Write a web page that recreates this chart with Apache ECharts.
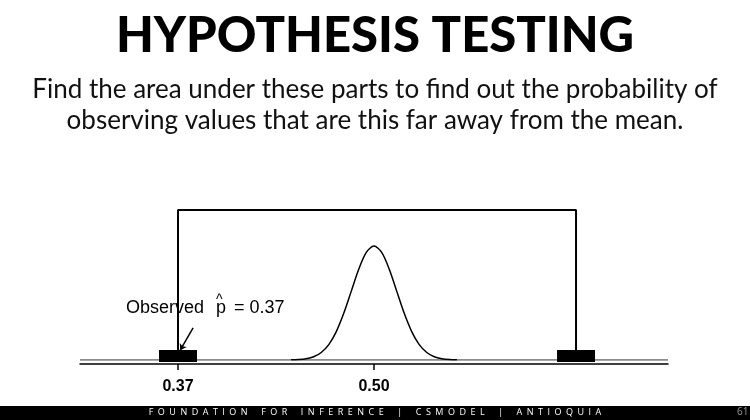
<!DOCTYPE html>
<html>
<head>
<meta charset="utf-8">
<script src="https://cdn.jsdelivr.net/npm/echarts@6/dist/echarts.min.js"></script>
<style>
  html, body { margin: 0; padding: 0; background: #fff; }
  #main { width: 750px; height: 420px; }
</style>
</head>
<body>
<div id="main"></div>
<script>
// sampling grid of the null distribution (p-hat) and its density
var curveX = [0.445, 0.450, 0.455, 0.460, 0.465, 0.470, 0.475, 0.480, 0.485, 0.490, 0.495, 0.500,
  0.505, 0.510, 0.515, 0.520, 0.525, 0.530, 0.535, 0.540, 0.545, 0.550, 0.555]
var curveY = [0.03, 0.10, 0.30, 0.76, 1.75, 3.60, 6.63, 10.94, 16.13, 21.30, 25.16, 26.60,
  25.16, 21.30, 16.13, 10.94, 6.63, 3.60, 1.75, 0.76, 0.30, 0.10, 0.03]
var observed = 0.37
var mirrored = 0.634
var bracketTop = 35
var tickValues = [0.37, 0.50]

var chart = echarts.init(document.getElementById('main'))

var curve = curveX.map(function(x, i) { return [x, curveY[i]] })
var font = 'Liberation Sans, Arial, sans-serif'
var sp = '\u2002'
var footer = ['FOUNDATION', 'FOR', 'INFERENCE', '|', 'CSMODEL', '|', 'ANTIOQUIA'].map(function(w) {
  return w.split('').join(sp)
}).join(sp + sp + sp)

var option = {
  animation: false,
  title: [
    {
      text: 'HYPOTHESIS TESTING',
      left: 'center',
      top: 7,
      textStyle: { fontFamily: 'Lato', fontWeight: 900, fontSize: 49, color: '#000' }
    },
    {
      text: 'Find the area under these parts to find out the probability of\nobserving values that are this far away from the mean.',
      left: 'center',
      top: 69,
      textStyle: { fontFamily: 'Lato', fontWeight: 'normal', fontSize: 26, lineHeight: 31, color: '#111', align: 'center' }
    }
  ],
  grid: { left: 80, right: 82, top: 210, bottom: 60 },
  xAxis: {
    type: 'value',
    min: 0.305,
    max: 0.695,
    offset: 4,
    splitLine: { show: false },
    axisLine: { onZero: false, lineStyle: { color: '#000', width: 1.5 } },
    axisTick: { customValues: tickValues, length: 6, lineStyle: { color: '#000', width: 1.5 } },
    axisLabel: {
      customValues: tickValues,
      margin: 15,
      fontFamily: font,
      fontWeight: 'bold',
      fontSize: 16,
      color: '#000',
      formatter: function(v) { return v.toFixed(2) }
    }
  },
  yAxis: { type: 'value', min: 0, max: bracketTop, show: false },
  series: [
    {
      // baseline of the density
      type: 'line',
      data: [[0.305, 0], [0.695, 0]],
      symbol: 'none',
      lineStyle: { color: '#666', width: 1.5 },
      z: 1
    },
    {
      type: 'line',
      data: curve,
      symbol: 'none',
      smooth: 0.3,
      lineStyle: { color: '#000', width: 1.5 },
      z: 3
    },
    {
      // bracket joining the observed value and its mirror
      type: 'line',
      data: [[observed, 0], [observed, bracketTop], [mirrored, bracketTop], [mirrored, 0]],
      symbol: 'none',
      lineStyle: { color: '#000', width: 2 },
      z: 2
    },
    {
      type: 'scatter',
      data: [[observed, 0], [mirrored, 0]],
      symbol: 'rect',
      symbolSize: [38, 12],
      symbolOffset: [0, -4],
      itemStyle: { color: '#000', opacity: 1 },
      z: 4
    },
    {
      type: 'lines',
      coordinateSystem: 'cartesian2d',
      data: [{ coords: [[0.380, 7.5], [0.3715, 2.3]] }],
      symbol: ['none', 'arrow'],
      symbolSize: 6,
      lineStyle: { color: '#000', width: 1.5, opacity: 1 },
      z: 5
    }
  ],
  graphic: [
    {
      type: 'text',
      left: 126,
      top: 299,
      style: { text: 'Observed', font: '18px ' + font, fill: '#000' }
    },
    {
      type: 'text',
      left: 216,
      top: 299,
      style: { text: 'p', font: '18px ' + font, fill: '#000' }
    },
    {
      type: 'text',
      left: 216,
      top: 293,
      style: { text: '^', font: '14px ' + font, fill: '#000' }
    },
    {
      type: 'text',
      left: 234,
      top: 299,
      style: { text: '= 0.37', font: '18px ' + font, fill: '#000' }
    },
    {
      type: 'rect',
      shape: { x: 0, y: 406, width: 750, height: 14 },
      style: { fill: '#000' }
    },
    {
      type: 'text',
      left: 'center',
      top: 408,
      style: { text: footer, font: '9px "Open Sans", sans-serif', fill: '#fff' }
    },
    {
      type: 'text',
      left: 737,
      top: 407,
      style: { text: '61', font: '10px "Open Sans", sans-serif', fill: '#999' }
    }
  ]
}

chart.setOption(option)
window.addEventListener('resize', function() {
  chart.resize()
})
</script>
</body>
</html>
